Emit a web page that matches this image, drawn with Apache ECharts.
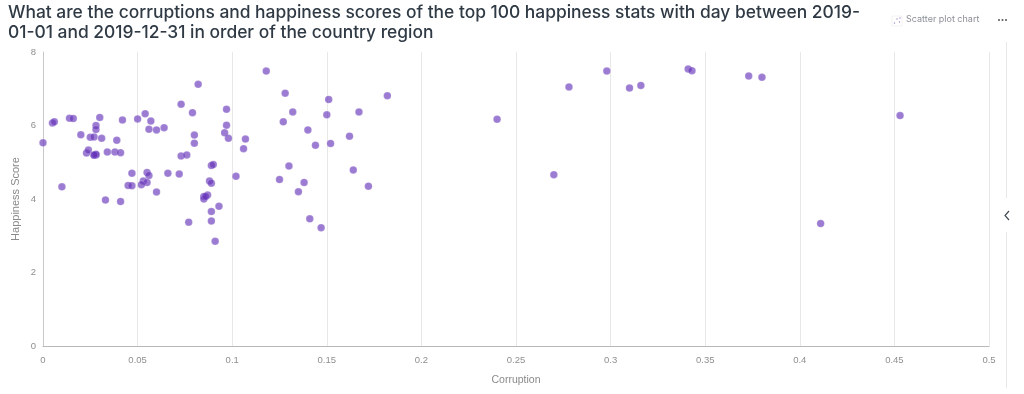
<!DOCTYPE html>
<html><head><meta charset="utf-8">
<script src="https://cdn.jsdelivr.net/npm/echarts@6/dist/echarts.min.js"></script>
<style>html,body{margin:0;padding:0;background:#fff}#c{width:1024px;height:394px}</style>
</head><body><div id="c"></div>
<script>
const corruption = [0,.005,.006,.010,.014,.016,.020,.023,.024,.025,.027,.028,.028,.030,.031,.027,.028,.028,.027,.034,.038,.039,.041,.042,.033,.041,.047,.045,.047,.050,.054,.057,.056,.060,.064,.055,.056,.053,.055,.052,.060,.066,.072,.073,.079,.082,.080,.080,.073,.076,.089,.090,.088,.089,.087,.085,.085,.086,.093,.089,.089,.077,.091,.097,.097,.096,.098,.102,.107,.106,.118,.128,.151,.182,.132,.167,.127,.150,.140,.162,.144,.152,.130,.164,.125,.138,.135,.172,.141,.147,.240,.270,.278,.298,.310,.316,.341,.343,.373,.380,.411,.453];
const happiness = [5.53,6.07,6.10,4.33,6.20,6.19,5.75,5.25,5.33,5.68,5.69,6.00,5.89,6.22,5.65,5.19,5.20,5.22,5.20,5.28,5.28,5.60,5.26,6.15,3.97,3.93,4.70,4.37,4.36,6.18,6.32,6.12,5.90,5.88,5.94,4.72,4.64,4.49,4.45,4.39,4.19,4.70,4.68,6.58,6.35,7.12,5.74,5.52,5.17,5.20,4.91,4.94,4.49,4.43,4.11,4.07,4.00,4.07,3.80,3.66,3.40,3.37,2.85,6.44,6.01,5.80,5.65,4.62,5.63,5.37,7.48,6.88,6.71,6.81,6.37,6.37,6.10,6.29,5.88,5.71,5.46,5.51,4.90,4.79,4.53,4.45,4.20,4.35,3.46,3.22,6.17,4.66,7.05,7.48,7.02,7.09,7.54,7.49,7.35,7.31,3.33,6.27];
const titleText = "What are the corruptions and happiness scores of the top 100 happiness stats with day between 2019-\n01-01 and 2019-12-31 in order of the country region";
const xName = "Corruption", yName = "Happiness Score", chartType = "Scatter plot chart";
const font = "Inter, 'Open Sans', sans-serif";
const labelFont = "'Liberation Sans', Arial, sans-serif";
const points = corruption.map((x,i)=>[x,happiness[i]]);
const chart = echarts.init(document.getElementById('c'),null,{renderer:'canvas'});
const axisText = {color:'#8f8f8f',fontSize:9.5,fontFamily:labelFont};
chart.setOption({
  animation:false,
  title:{text:titleText,left:3,top:-2,textStyle:{fontFamily:font,fontWeight:500,fontSize:17.4,lineHeight:20,color:'#2f3a45'}},
  grid:{left:43,right:35,top:52,bottom:48,containLabel:false,outerBoundsMode:'none'},
  xAxis:{type:'value',min:0,max:.5,interval:.05,name:xName,nameLocation:'middle',nameGap:29,nameMoveOverlap:false,
    nameTextStyle:{color:'#8a8a8a',fontSize:10.5,fontFamily:labelFont},
    axisLine:{onZero:false,lineStyle:{color:'#b8b8b8',width:1}},axisTick:{show:false},axisLabel:{...axisText,margin:9},
    splitLine:{show:true,lineStyle:{color:'#e8e8e8',width:1}}},
  yAxis:{type:'value',min:0,max:8,interval:2,name:yName,nameLocation:'middle',nameGap:22,nameMoveOverlap:false,
    nameTextStyle:{color:'#8a8a8a',fontSize:11,fontFamily:labelFont},
    axisLine:{show:true,lineStyle:{color:'#c8c8c8',width:1}},axisTick:{show:false},axisLabel:{...axisText,margin:7},
    splitLine:{show:false}},
  series:[{type:'scatter',data:points,symbol:'circle',symbolSize:7.5,
    itemStyle:{color:'rgba(100,50,185,0.8)',borderColor:'rgba(255,255,255,0.4)',borderWidth:0.5}}],
  graphic:[
    {type:'text',left:906,top:15,style:{text:chartType,fill:'#8b8f96',font:"9px Inter, sans-serif"}},
    {type:'rect',shape:{x:892,y:16,width:10,height:10},style:{fill:'#fff',stroke:'#e6e6e6',lineWidth:0.5}},
    {type:'circle',shape:{cx:894.5,cy:23,r:0.7},style:{fill:'#9b86c9'}},
    {type:'circle',shape:{cx:897,cy:19,r:0.7},style:{fill:'#9b86c9'}},
    {type:'circle',shape:{cx:899.5,cy:22,r:0.7},style:{fill:'#9b86c9'}},
    {type:'circle',shape:{cx:900,cy:18,r:0.7},style:{fill:'#9b86c9'}},
    {type:'circle',shape:{cx:999,cy:20,r:1},style:{fill:'#555'}},
    {type:'circle',shape:{cx:1002.5,cy:20,r:1},style:{fill:'#555'}},
    {type:'circle',shape:{cx:1006,cy:20,r:1},style:{fill:'#555'}},
    {type:'line',shape:{x1:1006.5,y1:42,x2:1006.5,y2:198},style:{stroke:'#e8e8e8',lineWidth:1}},
    {type:'line',shape:{x1:1006.5,y1:232,x2:1006.5,y2:388},style:{stroke:'#e8e8e8',lineWidth:1}},
    {type:'polyline',shape:{points:[[1009,211],[1005,215.5],[1009,220]]},style:{stroke:'#444c56',lineWidth:1.2,fill:'none'}}
  ]
});
</script></body></html>
